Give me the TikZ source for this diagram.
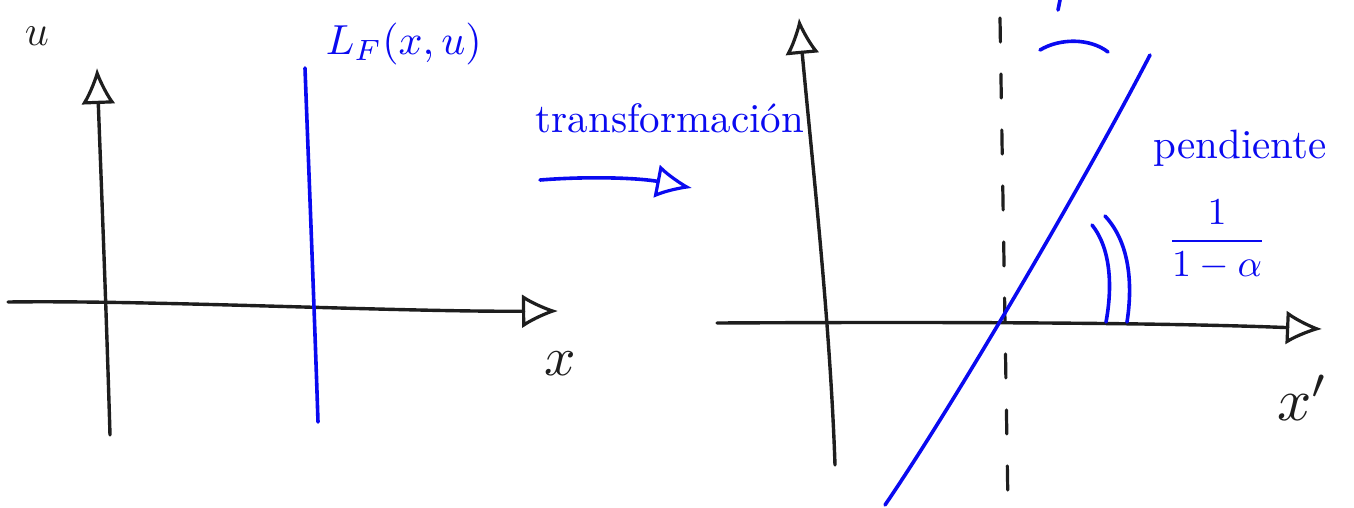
\documentclass[tikz,border=0pt]{standalone}
\usetikzlibrary{arrows.meta}
\definecolor{ink}{HTML}{1E1E1E}
\definecolor{pen}{HTML}{0A0AF0}
\tikzset{
  axis/.style={draw=ink, line width=3.4pt, line cap=round, line join=round, -{Latex[open,length=36pt,width=34pt,line width=3.2pt]}},
  blueline/.style={draw=pen, line width=3.6pt, line cap=round},
  bluetxt/.style={text=pen, inner sep=0pt},
  blacktxt/.style={text=ink, inner sep=0pt},
}
\begin{document}
\begin{tikzpicture}[x=1pt,y=1pt]
\useasboundingbox (0,0) rectangle (1354,-507);
% ---------- left plot ----------
\coordinate (lyb) at (110,-435);
\coordinate (lyt) at (97,-68);
\coordinate (lxl) at (8,-302);
\coordinate (lxr) at (558,-311);
\draw[axis] (lyb) .. controls (106,-300) and (100,-150) .. (lyt);
\draw[axis] (lxl) .. controls (150,-300) and (400,-312) .. (lxr);
\coordinate (lfb) at (318,-422);
\coordinate (lft) at (305,-68);
\draw[blueline] (lfb) .. controls (314,-300) and (308,-150) .. (lft);
\node[blacktxt, font=\Large, scale=3] (u) at (37,-36) {$u$};
\node[blacktxt, scale=5.5] (x) at (560,-364) {$x$};
\node[bluetxt, scale=4.2, anchor=west] (lf) at (325,-44) {$L_F(x,u)$};
% ---------- transformation ----------
\node[bluetxt, scale=4.1] (tr) at (670,-118) {transformación};
\coordinate (ta) at (540,-180);
\coordinate (tb) at (692,-188);
\draw[blueline, -{Latex[open,length=36pt,width=34pt,line width=3.2pt]}] (ta) .. controls (590,-176) and (640,-178) .. (tb);
% ---------- right plot ----------
\coordinate (ryb) at (835,-465);
\coordinate (ryt) at (799,-18);
\coordinate (rxl) at (717,-323);
\coordinate (rxr) at (1322,-329);
\draw[axis] (ryb) .. controls (830,-320) and (812,-160) .. (ryt);
\draw[axis] (rxl) .. controls (900,-322) and (1150,-322) .. (rxr);
\coordinate (db) at (1008,-507);
\coordinate (dt) at (1000,-18);
\draw[draw=ink, line width=3.2pt, line cap=round, dash pattern=on 24pt off 32pt] (dt) -- (db);
\coordinate (sb) at (885,-505);
\coordinate (st) at (1150,-55);
\draw[blueline] (sb) .. controls (950,-410) and (1080,-190) .. (st);
\coordinate (a1) at (1040,-50);
\coordinate (a2) at (1108,-52);
\draw[blueline] (a1) .. controls (1060,-38) and (1090,-38) .. (a2);
\coordinate (p1) at (1092,-225);
\coordinate (p2) at (1106,-322);
\draw[blueline] (p1) .. controls (1112,-250) and (1112,-290) .. (p2);
\coordinate (q1) at (1105,-216);
\coordinate (q2) at (1127,-322);
\draw[blueline] (q1) .. controls (1132,-245) and (1132,-290) .. (q2);
\coordinate (c1) at (1058,-10);
\coordinate (c2) at (1060,0);
\draw[blueline] (c1) -- (c2);
\node[bluetxt, scale=4.1] (pend) at (1240,-148) {pendiente};
\node[bluetxt, scale=3.8] (frac) at (1217,-240) {$\displaystyle\frac{1}{1-\alpha}$};
\node[blacktxt, scale=6] (xp) at (1303,-398) {$x'$};
\end{tikzpicture}
\end{document}
